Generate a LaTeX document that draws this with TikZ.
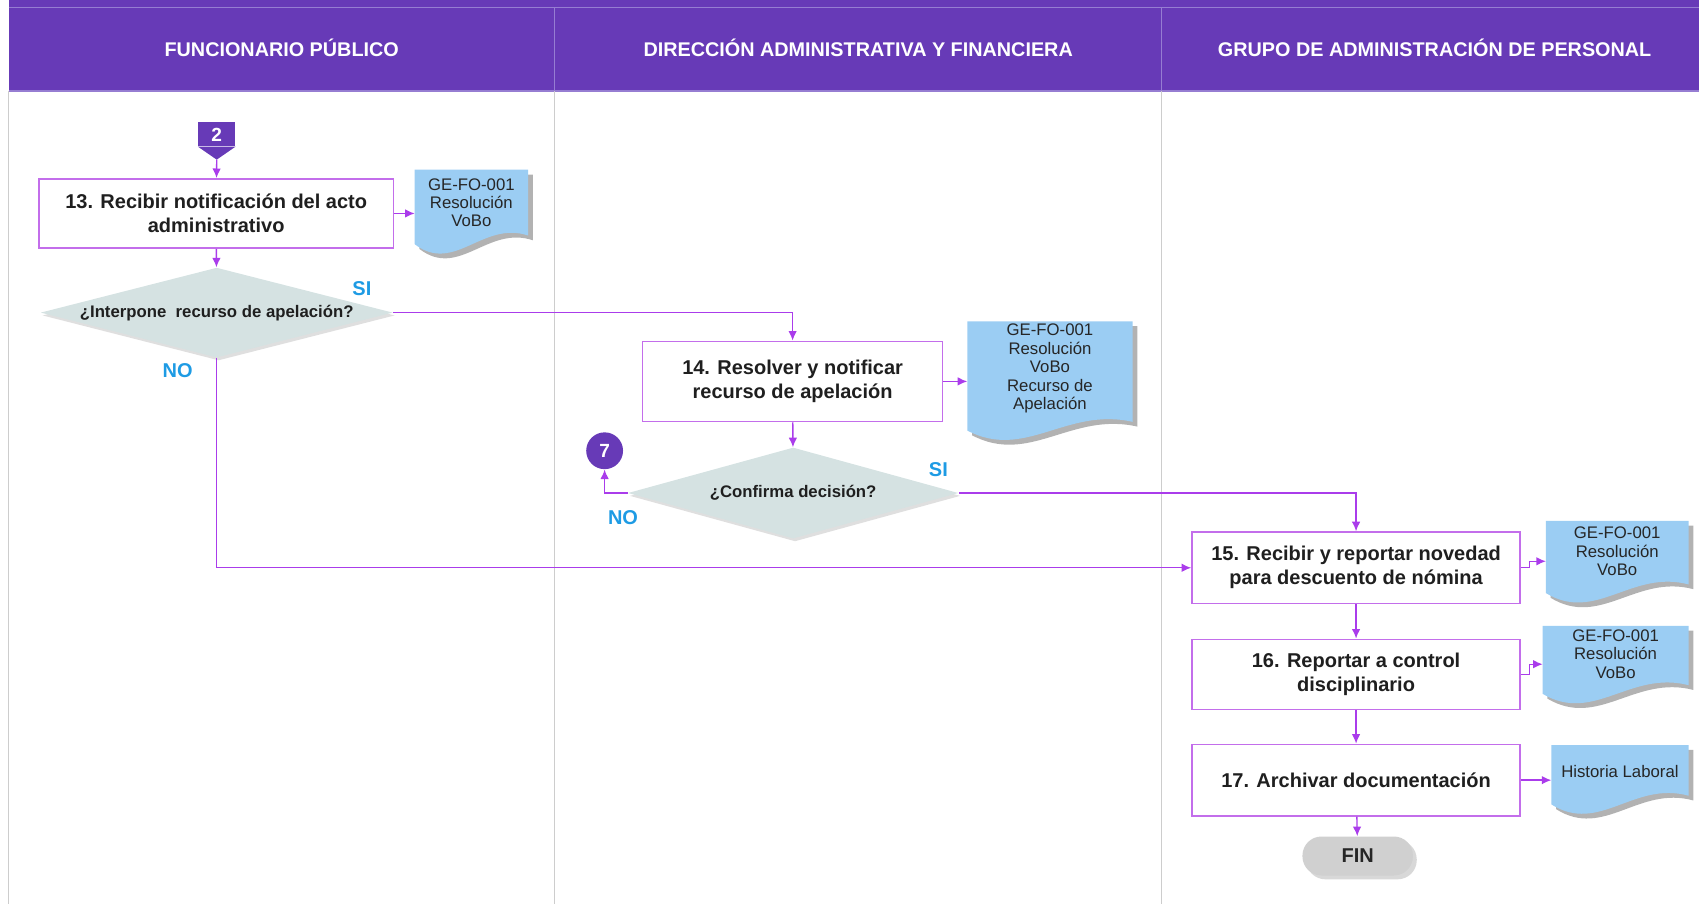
\documentclass[tikz,border=0pt]{standalone}
\usepackage{fontspec}
\setmainfont{Liberation Sans}
\usetikzlibrary{arrows.meta,shapes.geometric,shadows,positioning,calc,backgrounds}

\definecolor{morado}{RGB}{103,58,183}
\definecolor{lilacab}{RGB}{150,125,210}
\definecolor{grislinea}{RGB}{205,205,205}
\definecolor{bordeact}{RGB}{195,110,235}
\definecolor{violeta}{RGB}{170,60,235}
\definecolor{azuldoc}{RGB}{155,205,243}
\definecolor{grisrombo}{RGB}{213,226,226}
\definecolor{azulsi}{RGB}{30,155,228}
\definecolor{grisfin}{RGB}{208,208,208}

\begin{document}
\begin{tikzpicture}[x=0.02cm,y=-0.02cm,
    titulo/.style={text=white,font=\fontsize{10.4}{12}\selectfont\bfseries},
    actividad/.style={draw=bordeact,line width=0.8pt,fill=white,align=center,text=black!88,
        font=\fontsize{10.5}{12.6}\selectfont\bfseries,inner sep=2pt},
    decision/.style={diamond,fill=grisrombo,inner sep=0pt,text=black!88,
        drop shadow={shadow xshift=1pt,shadow yshift=-1.5pt,fill=black!25},
        font=\fontsize{8.8}{10}\selectfont\bfseries},
    hojadoc/.style={align=center,inner sep=1pt,text=black!85,font=\fontsize{8.8}{9.7}\selectfont},
    enlace/.style={fill=morado,text=white,inner sep=0pt,font=\fontsize{10}{12}\selectfont\bfseries},
    flujo/.style={draw=violeta,line width=0.7pt,-{Latex[length=5pt,width=4.5pt]}},
    respuesta/.style={text=azulsi,font=\fontsize{10.5}{12}\selectfont\bfseries}]
\useasboundingbox (0,0) rectangle (1568,834);
\def\ancho{1568}
\def\alto{834}
% hoja con borde ondulado
\def\hoja#1{%
    \path ($(#1.south west)!0.6!(#1.south east)+(0,-30)$) coordinate (#1c1)
          ($(#1.south west)!0.35!(#1.south east)+(0,20)$) coordinate (#1c2);
    \fill[black!30,transform canvas={xshift=2.5pt,yshift=-2.5pt}] (#1.north west) -- (#1.north east)
        -- ($(#1.south east)+(0,-16)$) .. controls (#1c1) and (#1c2) .. ($(#1.south west)+(0,-8)$) -- cycle;
    \fill[azuldoc] (#1.north west) -- (#1.north east)
        -- ($(#1.south east)+(0,-16)$) .. controls (#1c1) and (#1c2) .. ($(#1.south west)+(0,-8)$) -- cycle;}
% carriles
\fill[morado] (8,0) rectangle (\ancho,84);
\draw[lilacab,line width=0.8pt] (8,7) -- (\ancho,7);
\draw[lilacab,line width=0.8pt] (8,84) -- (\ancho,84);
\foreach \x in {512,1072}{
    \draw[lilacab,line width=0.6pt] (\x,7) -- (\x,84);
    \draw[grislinea,line width=0.6pt] (\x,84) -- (\x,\alto);}
\draw[grislinea,line width=0.8pt] (8,84) -- (8,\alto);
\node[titulo] (h1) at (260,44) {FUNCIONARIO PÚBLICO};
\node[titulo] (h2) at (792,44) {DIRECCIÓN ADMINISTRATIVA Y FINANCIERA};
\node[titulo] (h3) at (1324,44) {GRUPO DE ADMINISTRACIÓN DE PERSONAL};

% funcionario
\node[enlace,minimum width=0.68cm,minimum height=0.44cm] (c2) at (200,124) {2};
\fill[morado] (c2.south west) -- (c2.south east) -- ($(c2.south)+(0,12)$) coordinate (c2p) -- cycle;
\node[actividad,minimum width=6.54cm,minimum height=1.28cm] (a13) at (199.5,197)
    {13. Recibir notificación del acto\\administrativo};
\node[hojadoc,minimum width=2.08cm,minimum height=1.52cm] (f13) at (435,195)
    {GE-FO-001\\Resolución\\VoBo\\[-0.6pt]};
\node[decision,aspect=3.9,minimum width=6.5cm,minimum height=1.66cm] (q1) at (200,288.5)
    {¿Interpone\ \ recurso de apelación?};
\node[respuesta] (si1) at (334,266) {SI};
\node[respuesta] (no1) at (164,342) {NO};

% direccion
\node[actividad,minimum width=5.54cm,minimum height=1.48cm] (a14) at (731.5,352)
    {14. Resolver y notificar\\recurso de apelación};
\node[hojadoc,minimum width=3.04cm,minimum height=2.16cm] (f14) at (969,351)
    {GE-FO-001\\Resolución\\VoBo\\Recurso de\\Apelación\\[4.5pt]};
\node[decision,aspect=3.6,minimum width=6.1cm,minimum height=1.68cm] (q2) at (732,455)
    {¿Confirma decisión?};
\node[enlace,circle,minimum size=0.68cm] (c7) at (558,416) {7};
\node[respuesta] (si2) at (866,433) {SI};
\node[respuesta] (no2) at (575,478) {NO};

% grupo de personal
\node[actividad,minimum width=6.06cm,minimum height=1.32cm] (a15) at (1251.5,524)
    {15. Recibir y reportar novedad\\para descuento de nómina};
\node[hojadoc,minimum width=2.62cm,minimum height=1.48cm] (f15) at (1492.5,518)
    {GE-FO-001\\Resolución\\VoBo\\[0.6pt]};
\node[actividad,minimum width=6.06cm,minimum height=1.3cm] (a16) at (1251.5,622.5)
    {16. Reportar a control\\disciplinario};
\node[hojadoc,minimum width=2.68cm,minimum height=1.4cm] (f16) at (1491,613)
    {GE-FO-001\\Resolución\\VoBo\\[1.1pt]};
\node[actividad,minimum width=6.06cm,minimum height=1.32cm] (a17) at (1251.5,720)
    {17. Archivar documentación};
\node[hojadoc,minimum width=2.52cm,minimum height=1.24cm] (f17) at (1495,719)
    {Historia Laboral\\[-1.7pt]};
\node[fill=grisfin,rounded corners=10pt,minimum width=2.04cm,minimum height=0.72cm,
    drop shadow={shadow xshift=2pt,shadow yshift=-2pt,fill=black!30},
    font=\fontsize{10.5}{12}\selectfont\bfseries,text=black!85] (fin) at (1253,790) {FIN};

\begin{scope}[on background layer]
\foreach \n in {f13,f14,f15,f16,f17}{\hoja{\n}}
\end{scope}

% conectores
\draw[flujo] (c2p) -- (a13);
\draw[flujo] (a13.east) -- (a13.east -| f13.west);
\draw[flujo] (a13) -- (q1);
\draw[flujo] (q1.east) -| (a14.north);
\draw[flujo] (q1.south) |- (a15.west);
\draw[flujo] (a14.east) -- (a14.east -| f14.west);
\draw[flujo] (a14) -- (q2);
\draw[flujo] (q2.west) -| (c7.south);
\draw[flujo] (q2.east) -| (a15.north);
\draw[flujo] (a15.east) -- ++(8,0) |- (f15.west);
\draw[flujo] (a15) -- (a16);
\draw[flujo] (a16.east) -- ++(8,0) |- (f16.west);
\draw[flujo] (a16) -- (a17);
\draw[flujo] (a17.east) -- (a17.east -| f17.west);
\draw[flujo] (a17) -- (fin);
\end{tikzpicture}
\end{document}
